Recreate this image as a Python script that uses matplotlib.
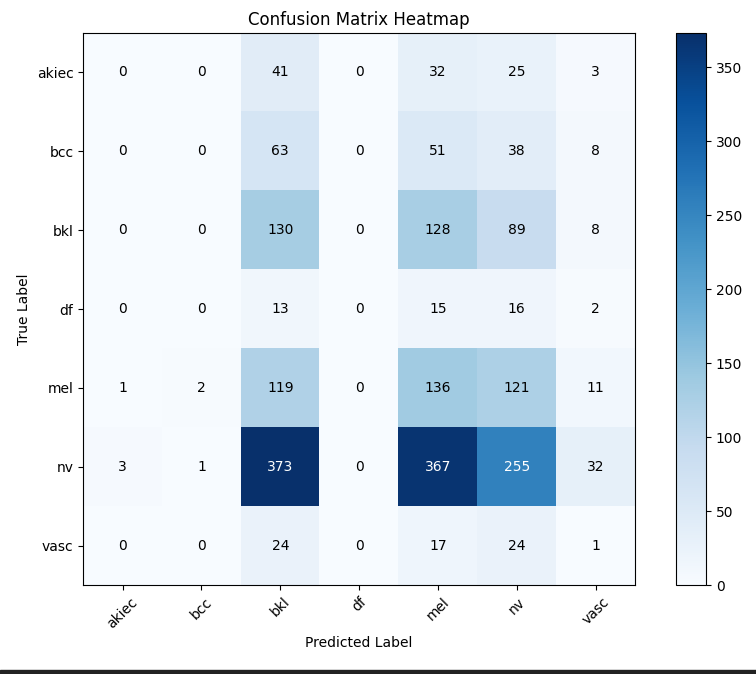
import matplotlib.pyplot as plt
import numpy as np
from matplotlib.patches import Rectangle

LABELS = ["akiec", "bcc", "bkl", "df", "mel", "nv", "vasc"]
CM = [
    [0, 0, 41, 0, 32, 25, 3],
    [0, 0, 63, 0, 51, 38, 8],
    [0, 0, 130, 0, 128, 89, 8],
    [0, 0, 13, 0, 15, 16, 2],
    [1, 2, 119, 0, 136, 121, 11],
    [3, 1, 373, 0, 367, 255, 32],
    [0, 0, 24, 0, 17, 24, 1],
]


def main() -> None:
    cm = np.array(CM)
    fig = plt.figure(figsize=(7.56, 6.74), dpi=100)
    ax = fig.add_axes([0.110, 0.132, 0.730, 0.819])
    cax = fig.add_axes([0.894, 0.132, 0.040, 0.819])

    im = ax.imshow(cm, cmap="Blues", aspect="auto")
    fig.colorbar(im, cax=cax)

    thresh = cm.max() / 2
    for i in range(cm.shape[0]):
        for j in range(cm.shape[1]):
            ax.text(j, i, str(cm[i, j]), ha="center", va="center",
                    color="white" if cm[i, j] > thresh else "black")

    ax.set_xticks(range(len(LABELS)))
    ax.set_xticklabels(LABELS, rotation=45)
    ax.set_yticks(range(len(LABELS)))
    ax.set_yticklabels(LABELS)
    ax.set_xlabel("Predicted Label")
    ax.set_ylabel("True Label")
    ax.set_title("Confusion Matrix Heatmap")

    # dark strip along the bottom edge of the screenshot
    fig.patches.append(Rectangle((0, 0), 1, 0.006, transform=fig.transFigure,
                                 color="#222222", zorder=10))

    fig.savefig("out.png")


if __name__ == "__main__":
    main()
